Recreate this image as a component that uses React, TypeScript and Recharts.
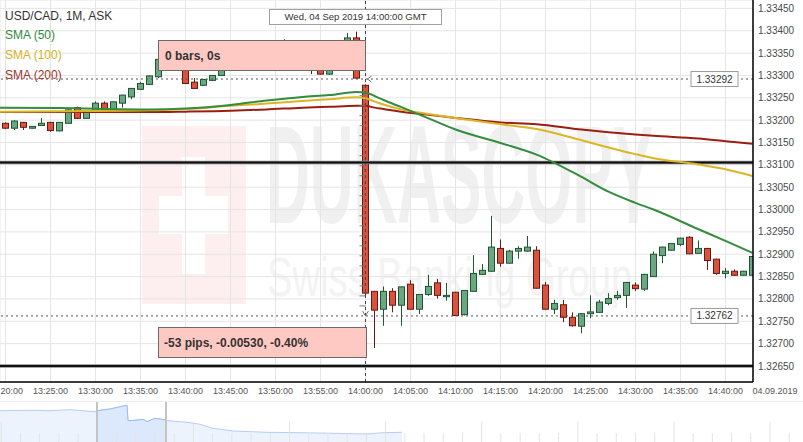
import React from 'react';
import {
  ComposedChart, Bar, Line, XAxis, YAxis, CartesianGrid, ReferenceLine, ReferenceDot,
  AreaChart, Area,
} from 'recharts';

const FONT = '"Liberation Sans", Arial, sans-serif';

// minutes after 13:00 GMT (60 = 14:00:00)
const minutes = [20, 21, 22, 23, 24, 25, 26, 27, 28, 29, 30, 31, 32, 33, 34, 35, 36, 37, 38, 39,
  40, 41, 42, 43, 44, 45, 46, 47, 48, 49, 50, 51, 52, 53, 54, 55, 56, 57, 58, 59,
  60, 61, 62, 63, 64, 65, 66, 67, 68, 69, 70, 71, 72, 73, 74, 75, 76, 77, 78, 79,
  80, 81, 82, 83, 84, 85, 86, 87, 88, 89, 90, 91, 92, 93, 94, 95, 96, 97, 98, 99,
  100, 101, 102, 103];
const opens = [1.33193, 1.33182, 1.33195, 1.33182, 1.33188, 1.33195, 1.33176, 1.33193, 1.33228, 1.33204,
  1.33220, 1.33238, 1.33219, 1.33238, 1.33252, 1.33269, 1.33280, 1.33297, 1.33336, 1.33352,
  1.33330, 1.33285, 1.33278, 1.33289, 1.33300, 1.33330, 1.33323, 1.33340, 1.33350, 1.33338,
  1.33352, 1.33360, 1.33345, 1.33330, 1.33338, 1.33320, 1.33303, 1.33335, 1.33352, 1.33384,
  1.33278, 1.32817, 1.32777, 1.32817, 1.32786, 1.32833, 1.32777, 1.32810, 1.32836, 1.32805,
  1.32815, 1.32765, 1.32817, 1.32855, 1.32862, 1.32913, 1.32880, 1.32907, 1.32907, 1.32909,
  1.32831, 1.32777, 1.32787, 1.32759, 1.32739, 1.32767, 1.32770, 1.32790, 1.32803, 1.32808,
  1.32831, 1.32822, 1.32850, 1.32897, 1.32909, 1.32922, 1.32938, 1.32902, 1.32913, 1.32889,
  1.32857, 1.32862, 1.32853, 1.32853];
const highs = [1.33195, 1.33200, 1.33196, 1.33187, 1.33205, 1.33196, 1.33196, 1.33224, 1.33230, 1.33220,
  1.33242, 1.33242, 1.33242, 1.33257, 1.33272, 1.33286, 1.33300, 1.33340, 1.33356, 1.33355,
  1.33332, 1.33294, 1.33292, 1.33301, 1.33333, 1.33335, 1.33345, 1.33355, 1.33354, 1.33358,
  1.33365, 1.33381, 1.33348, 1.33342, 1.33340, 1.33325, 1.33340, 1.33356, 1.33395, 1.33398,
  1.33280, 1.32818, 1.32828, 1.32824, 1.32828, 1.32842, 1.32811, 1.32854, 1.32845, 1.32836,
  1.32816, 1.32820, 1.32898, 1.32878, 1.32986, 1.32933, 1.32910, 1.32918, 1.32941, 1.32918,
  1.32838, 1.32798, 1.32798, 1.32770, 1.32768, 1.32808, 1.32798, 1.32813, 1.32818, 1.32838,
  1.32837, 1.32856, 1.32906, 1.32917, 1.32925, 1.32937, 1.32940, 1.32931, 1.32914, 1.32890,
  1.32869, 1.32866, 1.32863, 1.32896];
const lows = [1.33180, 1.33178, 1.33178, 1.33181, 1.33187, 1.33174, 1.33175, 1.33192, 1.33203, 1.33203,
  1.33219, 1.33222, 1.33218, 1.33228, 1.33247, 1.33268, 1.33279, 1.33294, 1.33333, 1.33328,
  1.33281, 1.33270, 1.33277, 1.33288, 1.33299, 1.33320, 1.33320, 1.33336, 1.33335, 1.33336,
  1.33348, 1.33342, 1.33326, 1.33325, 1.33303, 1.33302, 1.33301, 1.33332, 1.33350, 1.33292,
  1.32808, 1.32690, 1.32740, 1.32770, 1.32740, 1.32776, 1.32766, 1.32807, 1.32801, 1.32796,
  1.32762, 1.32763, 1.32816, 1.32854, 1.32861, 1.32872, 1.32879, 1.32890, 1.32906, 1.32823,
  1.32776, 1.32766, 1.32748, 1.32738, 1.32723, 1.32757, 1.32769, 1.32786, 1.32798, 1.32780,
  1.32818, 1.32818, 1.32849, 1.32880, 1.32908, 1.32918, 1.32900, 1.32901, 1.32865, 1.32854,
  1.32846, 1.32852, 1.32852, 1.32852];
const closes = [1.33182, 1.33198, 1.33184, 1.33186, 1.33193, 1.33177, 1.33195, 1.33223, 1.33204, 1.33219,
  1.33238, 1.33223, 1.33241, 1.33256, 1.33271, 1.33282, 1.33299, 1.33336, 1.33352, 1.33330,
  1.33282, 1.33271, 1.33291, 1.33300, 1.33330, 1.33323, 1.33340, 1.33350, 1.33338, 1.33352,
  1.33360, 1.33345, 1.33330, 1.33338, 1.33320, 1.33303, 1.33335, 1.33352, 1.33384, 1.33294,
  1.32813, 1.32775, 1.32817, 1.32786, 1.32827, 1.32777, 1.32810, 1.32828, 1.32808, 1.32808,
  1.32763, 1.32819, 1.32857, 1.32864, 1.32916, 1.32880, 1.32907, 1.32913, 1.32916, 1.32824,
  1.32777, 1.32790, 1.32759, 1.32740, 1.32767, 1.32771, 1.32793, 1.32801, 1.32808, 1.32837,
  1.32823, 1.32855, 1.32900, 1.32916, 1.32924, 1.32936, 1.32901, 1.32913, 1.32886, 1.32857,
  1.32862, 1.32853, 1.32862, 1.32895];

const smaMinutes = [19, 26, 36, 40, 45, 49, 53, 56, 59, 60, 61, 62, 64, 67, 70, 75, 79, 84, 87, 90, 92, 97, 100, 103];
const sma50 = [1.33228, 1.33227, 1.33224, 1.33226, 1.33234, 1.33244, 1.33252, 1.33256, 1.33263, 1.33262, 1.33254, 1.33245,
  1.33229, 1.33204, 1.33179, 1.33149, 1.33123, 1.33073, 1.33040, 1.33015, 1.33000, 1.32956, 1.32930, 1.32903];
const sma100 = [1.33219, 1.33220, 1.33222, 1.33225, 1.33232, 1.33237, 1.33243, 1.33247, 1.33251, 1.33249, 1.33242, 1.33235,
  1.33224, 1.33214, 1.33205, 1.33191, 1.33180, 1.33155, 1.33139, 1.33124, 1.33115, 1.33101, 1.33090, 1.33075];
const sma200 = [1.33218, 1.33218, 1.33218, 1.33219, 1.33221, 1.33224, 1.33228, 1.33230, 1.33232, 1.33232, 1.33228, 1.33225,
  1.33219, 1.33212, 1.33205, 1.33195, 1.33191, 1.33179, 1.33173, 1.33168, 1.33165, 1.33159, 1.33153, 1.33147];

const timeTicks = [20, 25, 30, 35, 40, 45, 50, 55, 60, 65, 70, 75, 80, 85, 90, 95, 100];
const priceTicks = [1.3265, 1.327, 1.3275, 1.328, 1.3285, 1.329, 1.3295, 1.33, 1.3305, 1.331, 1.3315, 1.332,
  1.3325, 1.333, 1.3335, 1.334, 1.3345];

const levelLineA = 1.33105;
const levelLineB = 1.3265;
const markHigh = 1.33292;
const markLow = 1.32762;
const markMinute = 60;
const rulerStep = 0.000224;
const rulerCount = 22;

// navigator overview (position, level)
const navX = [0, 30, 50, 70, 95, 97, 110, 125, 127, 128, 135, 143, 147, 155, 166, 168, 187, 200, 213, 233, 267, 300, 333, 367, 383, 402];
const navLevel = [31.3, 31.7, 31.3, 32.3, 30.3, 31.3, 33, 36.3, 36.7, 21.3, 21.7, 22.7, 20.3, 23.7, 22, 21.3, 19.7, 17.7, 13.7,
  11, 9.7, 9.3, 8.7, 8, 9.3, 9.7];
const navWindow = [97, 166];

const candles = minutes.map((t, i) => ({ t, open: opens[i], high: highs[i], low: lows[i], close: closes[i] }));
const mk = (vals: number[]) => smaMinutes.map((t, i) => ({ t, v: vals[i] }));
const sma50Data = mk(sma50);
const sma100Data = mk(sma100);
const sma200Data = mk(sma200);
const navAll = navX.map((x, i) => ({ x, v: navLevel[i] }));
const navSel = navAll.filter((d) => d.x >= navWindow[0] && d.x <= navWindow[1]);
const rulerPrices = Array.from({ length: rulerCount }, (_, k) => markLow + rulerStep * (k + 1));
const navTickXs = Array.from({ length: 42 }, (_, i) => ({ x: 1.2 + 19.22 * i, tall: i % 5 === 0 }));

const fmtTime = (t: number) => `${13 + Math.floor(t / 60)}:${String(t % 60).padStart(2, '0')}:00`;

const Candle = (props: any) => {
  const { x, y, width, height, payload } = props;
  if (!payload) return null;
  const { open, close, high, low } = payload;
  const top = Math.min(y, y + height);
  const bottom = Math.max(y, y + height);
  const ratio = (bottom - top) / (high - low);
  const up = close >= open;
  const bTop = top + (high - Math.max(open, close)) * ratio;
  const bBot = top + (high - Math.min(open, close)) * ratio;
  const cx = x + width / 2;
  const stroke = up ? '#1e5632' : '#6e170e';
  const fill = up ? '#6ba783' : '#d85240';
  return (
    <g>
      <line x1={cx} x2={cx} y1={top} y2={bottom} stroke={stroke} strokeWidth={1} />
      <rect x={x + 0.5} y={bTop} width={width - 1} height={Math.max(bBot - bTop, 1)} fill={fill} stroke={stroke} strokeWidth={1} />
    </g>
  );
};

const PriceTag = (props: any) => {
  const { viewBox, text } = props;
  if (!viewBox) return null;
  const right = viewBox.x + viewBox.width;
  const cy = viewBox.y;
  return (
    <g>
      <rect x={right - 62} y={cy - 7.5} width={47} height={15} fill="#fff" stroke="#9a9a9a" />
      <text x={right - 38.5} y={cy + 3.5} textAnchor="middle" fontSize={10} fill="#333" fontFamily={FONT}>{text}</text>
    </g>
  );
};

const LeftArrow = (p: any) => (
  <polyline points={`${p.cx + 6},${p.cy - 3} ${p.cx + 2},${p.cy} ${p.cx + 6},${p.cy + 3}`} fill="none" stroke="#777" strokeWidth={1} />
);
const DownArrow = (p: any) => (
  <polyline points={`${p.cx - 3},${p.cy - 5} ${p.cx},${p.cy} ${p.cx + 3},${p.cy - 5}`} fill="none" stroke="#777" strokeWidth={1} />
);
const RulerTick = (p: any) => (
  <line x1={p.cx - 6} x2={p.cx} y1={p.cy} y2={p.cy} stroke="#7a7a7a" strokeWidth={1} />
);

const legendStyle = (top: number, color: string): React.CSSProperties => ({
  position: 'absolute', left: 5, top, fontSize: 12, lineHeight: '12px', color, whiteSpace: 'nowrap',
});

export default function App() {
  return (
    <div style={{ position: 'absolute', left: 0, top: 0, width: 803, height: 442, background: '#fff', overflow: 'hidden', fontFamily: FONT }}>
      {/* watermark */}
      <div style={{ position: 'absolute', left: 142, top: 126, width: 104, height: 178, background: '#fdeff0' }} />
      <div style={{ position: 'absolute', left: 182, top: 157, width: 23, height: 117, background: '#fff' }} />
      <div style={{ position: 'absolute', left: 159, top: 196, width: 69, height: 38, background: '#fff' }} />
      <div style={{ position: 'absolute', left: 266, top: 104.5, fontSize: 140, lineHeight: '140px', fontWeight: 'bold', color: '#f0f0f0', transform: 'scaleX(0.433)', transformOrigin: 'left top', whiteSpace: 'nowrap' }}>DUKASCOPY</div>
      <div style={{ position: 'absolute', left: 267, top: 249.3, fontSize: 56, lineHeight: '56px', color: '#f3f3f3', transform: 'scaleX(0.682)', transformOrigin: 'left top', whiteSpace: 'nowrap' }}>Swiss Banking Group</div>

      <div style={{ position: 'absolute', left: 0, top: 0 }}>
        <ComposedChart width={803} height={402} data={candles} margin={{ top: 0, right: 0, bottom: 0, left: 0 }}>
          <CartesianGrid stroke="#e5e5e5" strokeWidth={1} />
          <XAxis
            type="number" dataKey="t" domain={[19.389, 103.056]} allowDataOverflow ticks={timeTicks} interval={0}
            tickFormatter={fmtTime} height={20} tickLine={false} tickSize={4} tickMargin={2}
            axisLine={{ stroke: '#000', strokeWidth: 1.5 }}
            tick={{ fontSize: 9, fill: '#555', fontFamily: FONT }}
          />
          <YAxis
            type="number" orientation="right" domain={[1.326142, 1.334688]} allowDataOverflow ticks={priceTicks} interval={0}
            tickFormatter={(v: number) => v.toFixed(5)} width={50} tickLine={false} tickSize={5} tickMargin={0}
            axisLine={{ stroke: '#000', strokeWidth: 1.5 }}
            tick={{ fontSize: 10, fill: '#4a4a4a', fontFamily: FONT }}
          />
          <ReferenceLine x={markMinute} stroke="#444" strokeDasharray="3 3" />
          <ReferenceLine y={levelLineA} stroke="#8a8a8a" strokeWidth={3.5} />
          <ReferenceLine y={levelLineA} stroke="#111" strokeWidth={2} />
          <ReferenceLine y={levelLineB} stroke="#8a8a8a" strokeWidth={3.5} />
          <ReferenceLine y={levelLineB} stroke="#111" strokeWidth={2} />
          <ReferenceLine y={markHigh} stroke="#555" strokeDasharray="2 3" label={(p: any) => <PriceTag {...p} text={markHigh.toFixed(5)} />} />
          <ReferenceLine y={markLow} stroke="#555" strokeDasharray="2 3" label={(p: any) => <PriceTag {...p} text={markLow.toFixed(5)} />} />
          <Line data={sma200Data} dataKey="v" type="monotone" stroke="#9a1f10" strokeWidth={2} dot={false} isAnimationActive={false} />
          <Line data={sma100Data} dataKey="v" type="monotone" stroke="#dcb526" strokeWidth={2} dot={false} isAnimationActive={false} />
          <Line data={sma50Data} dataKey="v" type="monotone" stroke="#338d3c" strokeWidth={2} dot={false} isAnimationActive={false} />
          <Bar dataKey={(d: any) => [d.low, d.high]} shape={Candle} barSize={7} isAnimationActive={false} />
          {rulerPrices.map((p, i) => (
            <ReferenceDot key={i} x={markMinute} y={p} r={0} shape={RulerTick} />
          ))}
          <ReferenceDot x={markMinute} y={markHigh} r={0} shape={LeftArrow} />
          <ReferenceDot x={markMinute} y={markLow} r={0} shape={DownArrow} />
        </ComposedChart>
      </div>

      {/* navigator */}
      <div style={{ position: 'absolute', left: 0, top: 401, width: 803, height: 1, background: '#ececec' }} />
      <div style={{ position: 'absolute', left: 0, top: 402 }}>
        <AreaChart width={803} height={40} margin={{ top: 0, right: 0, bottom: 0, left: 0 }}>
          <XAxis type="number" dataKey="x" domain={[0, 803]} hide allowDataOverflow />
          <YAxis type="number" domain={[0, 40]} hide allowDataOverflow />
          <Area data={navAll} dataKey="v" type="linear" stroke="#b5cef4" strokeWidth={1} fill="#edf3fd" fillOpacity={1} isAnimationActive={false} />
          <Area data={navSel} dataKey="v" type="linear" stroke="#9dbcf0" strokeWidth={1} fill="#dce8fb" fillOpacity={1} isAnimationActive={false} />
          {navTickXs.map((tk, i) => (
            <ReferenceLine key={i} segment={[{ x: tk.x, y: 0 }, { x: tk.x, y: tk.tall ? 20.3 : 9 }]} stroke="#e3e3e3" />
          ))}
          <ReferenceLine x={navWindow[0]} stroke="#c4c4c4" strokeWidth={2} />
          <ReferenceLine x={navWindow[1]} stroke="#c4c4c4" strokeWidth={2} />
        </AreaChart>
      </div>

      {/* legend */}
      <div style={legendStyle(9.8, '#333')}>USD/CAD, 1M, ASK</div>
      <div style={legendStyle(28.8, '#2f8a3c')}>SMA (50)</div>
      <div style={legendStyle(49.1, '#d6b220')}>SMA (100)</div>
      <div style={legendStyle(69.1, '#a33228')}>SMA (200)</div>

      {/* crosshair date */}
      <div style={{ position: 'absolute', left: 269, top: 9, width: 173, height: 16, boxSizing: 'border-box', background: '#fff', border: '1px solid #a0a0a0', fontSize: 9.5, lineHeight: '14px', color: '#333', textAlign: 'center', whiteSpace: 'nowrap' }}>
        Wed, 04 Sep 2019 14:00:00 GMT
      </div>

      {/* measurement boxes */}
      <div style={{ position: 'absolute', left: 158, top: 40, width: 208, height: 31, boxSizing: 'border-box', background: '#fec9c3', border: '1px solid #6b6b6b', fontSize: 12, lineHeight: '12px', fontWeight: 'bold', color: '#333', paddingLeft: 6, paddingTop: 9, whiteSpace: 'nowrap' }}>
        0 bars, 0s
      </div>
      <div style={{ position: 'absolute', left: 158, top: 327, width: 209, height: 31, boxSizing: 'border-box', background: '#fec9c3', border: '1px solid #6b6b6b', fontSize: 12, lineHeight: '12px', fontWeight: 'bold', color: '#333', paddingLeft: 5, paddingTop: 8.5, whiteSpace: 'nowrap' }}>
        -53 pips, -0.00530, -0.40%
      </div>

      <div style={{ position: 'absolute', left: 752, top: 387, width: 46, fontSize: 9, lineHeight: '9px', color: '#555', textAlign: 'center', whiteSpace: 'nowrap' }}>04.09.2019</div>
    </div>
  );
}
